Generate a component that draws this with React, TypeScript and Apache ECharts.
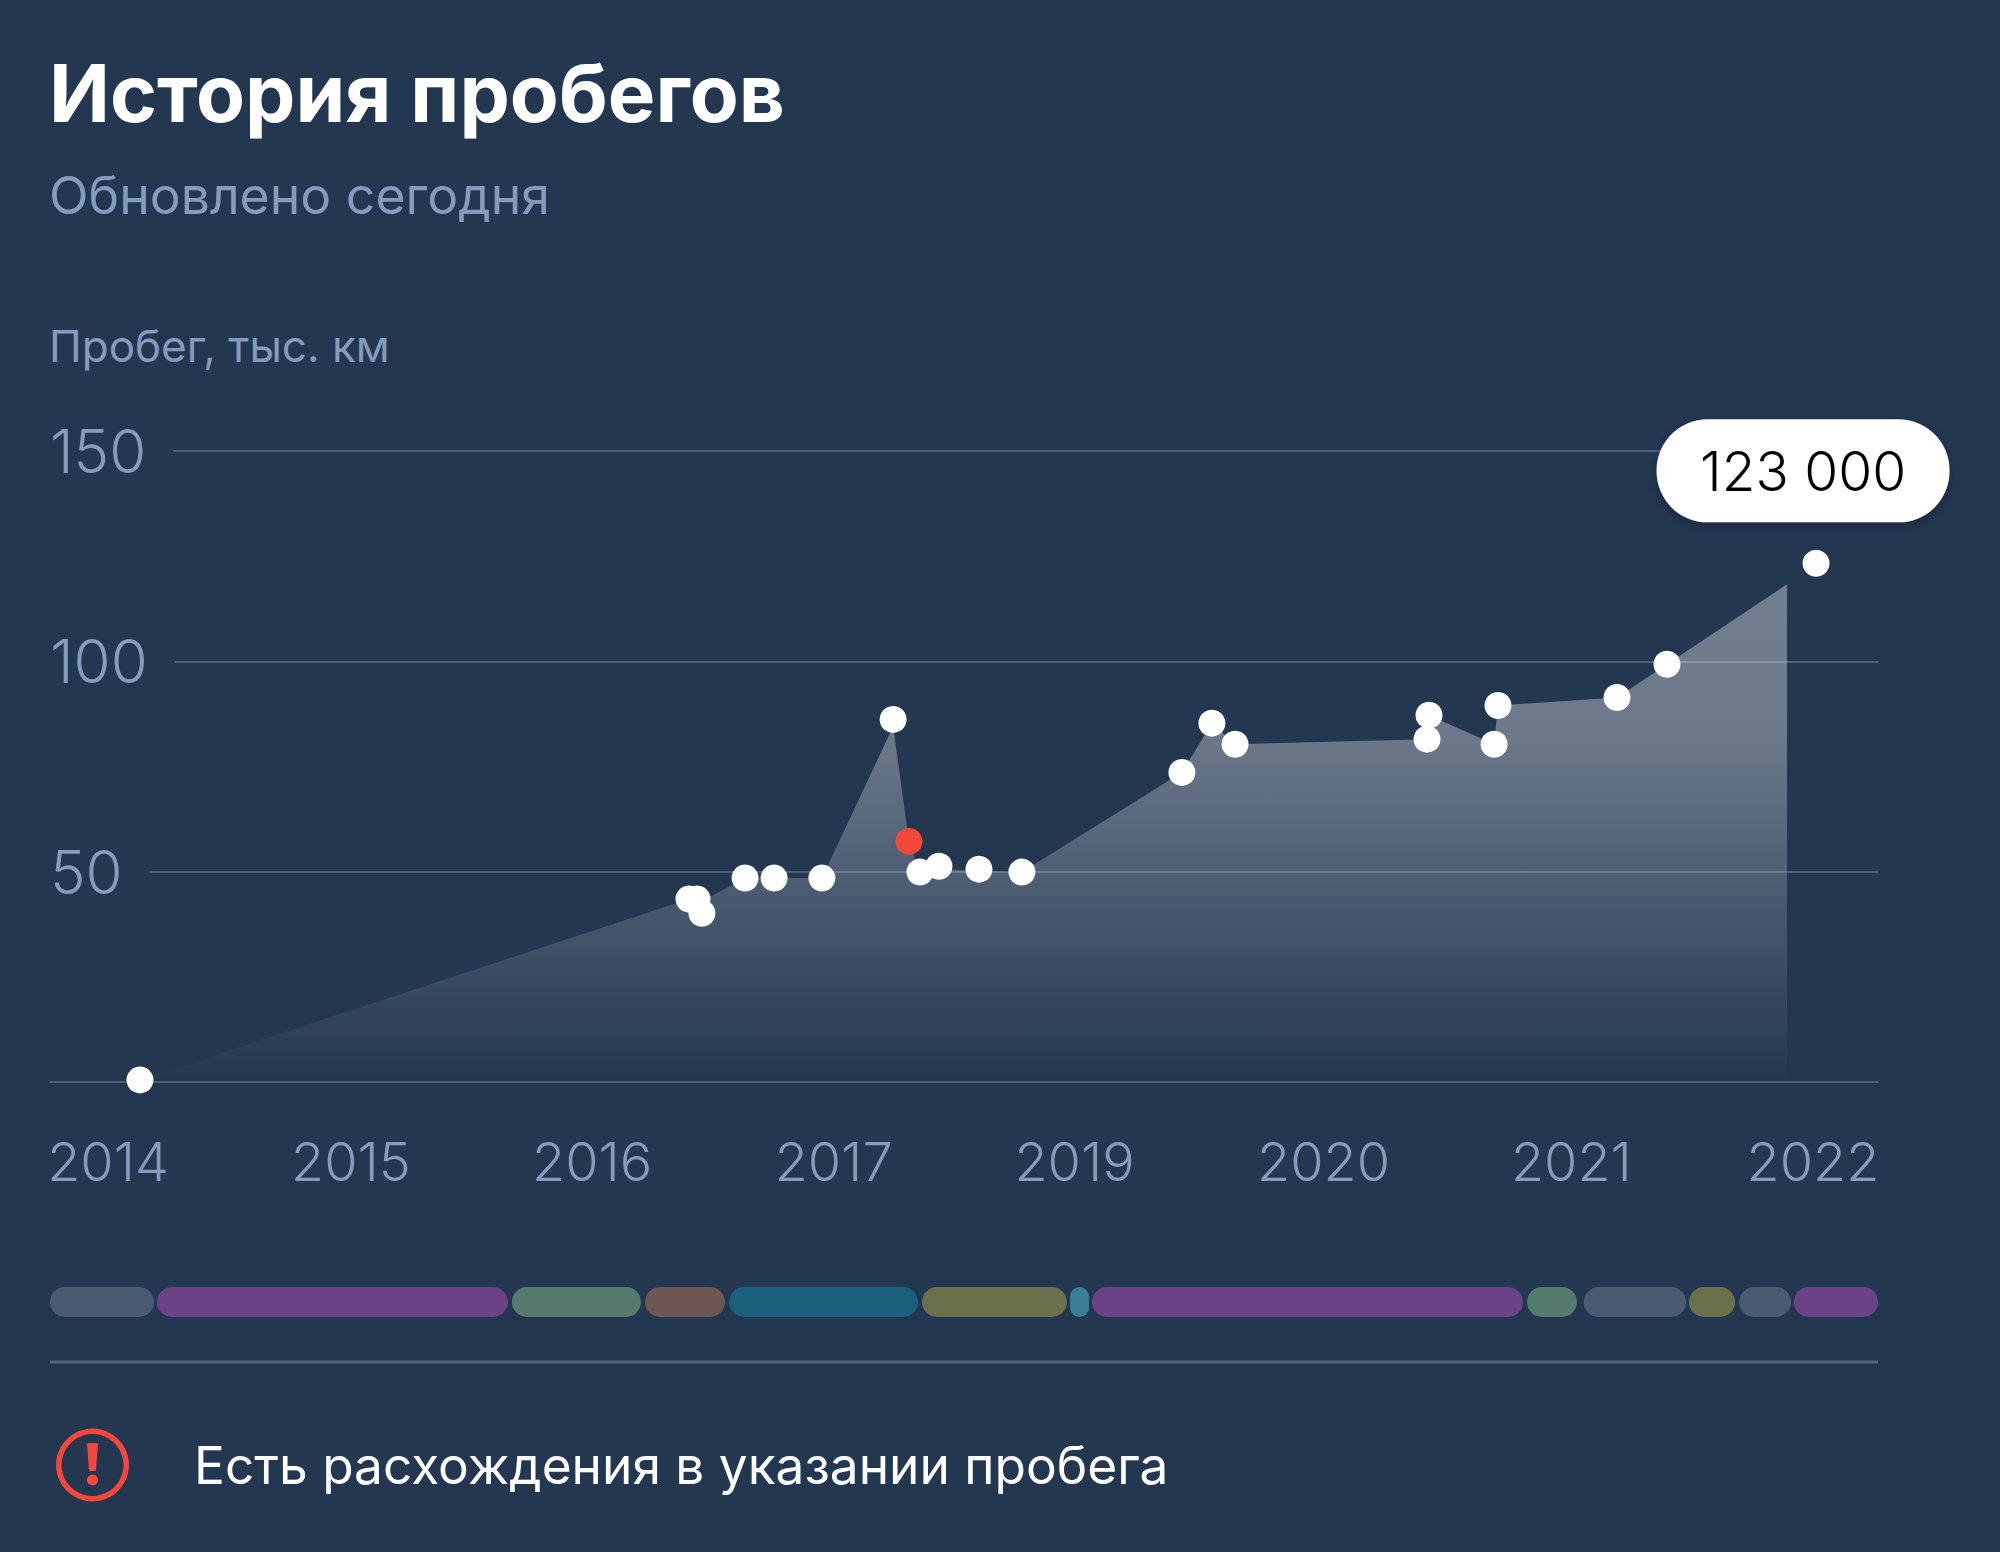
import React, { useEffect, useRef } from "react";
import * as echarts from "echarts";

const BG = "#233751";
const MUTED = "#849cbc";
const FONT = "Inter";
const RED = "#f4473c";

const yearLabels = ["2014", "2015", "2016", "2017", "2019", "2020", "2021", "2022"];
const yearPositions = [0, 0.996, 1.985, 2.975, 3.963, 4.984, 6.0, 6.99];

const pointX = [0.131, 2.382, 2.415, 2.435, 2.612, 2.731, 2.927, 3.219, 3.284, 3.329, 3.407, 3.571, 3.747, 4.403, 4.526, 4.621, 5.408, 5.416, 5.683, 5.699, 6.187, 6.392, 7.003];
const pointY = [0.5, 43.5, 43.5, 40.1, 48.5, 48.5, 48.5, 86.2, 57.2, 49.9, 51.3, 50.6, 49.9, 73.6, 85.3, 80.3, 81.5, 87.2, 80.3, 89.5, 91.4, 99.3, 123.3];
const redIndex = 8;

const areaX = [0.131, 2.382, 2.435, 2.612, 2.927, 3.219, 3.284, 3.329, 3.407, 3.747, 4.403, 4.526, 4.621, 5.408, 5.416, 5.683, 5.699, 6.187, 6.392, 6.884];
const areaY = [0.5, 43.5, 43.0, 48.5, 48.5, 84.5, 57.2, 49.9, 50.6, 49.9, 73.6, 85.3, 80.3, 81.5, 87.2, 80.3, 89.5, 91.4, 99.3, 118.3];

const segmentStart = [0, 5.85, 25.27, 32.55, 37.14, 47.7, 55.8, 57.0, 80.8, 83.9, 89.66, 92.4, 95.4];
const segmentEnd = [5.69, 25.05, 32.33, 36.93, 47.48, 55.63, 56.84, 80.58, 83.53, 89.5, 92.18, 95.24, 100];
const segmentColors = ["#4a5a70", "#6c4287", "#557a6e", "#6d5654", "#1a5f7c", "#6a7049", "#3b7d92", "#6c4287", "#557a6e", "#4a5a70", "#6a7049", "#4a5a70", "#6c4287"];

const titleText = "История пробегов";
const subtitleText = "Обновлено сегодня";
const axisTitleText = "Пробег, тыс. км";
const warningText = "Есть расхождения в указании пробега";
const lastValueText = "123 000";

export default function App() {
  const ref = useRef<HTMLDivElement>(null);
  useEffect(() => {
    document.body.style.margin = "0";
    const chart = echarts.init(ref.current!, null, { renderer: "svg" });
    chart.setOption({
      animation: false,
      backgroundColor: BG,
      grid: [
        { left: 50, right: 122, top: 451, height: 631 },
        { left: 50, right: 122, top: 1287, height: 30 },
      ],
      xAxis: [
        {
          type: "value",
          gridIndex: 0,
          min: -0.2378,
          max: 7.257,
          splitLine: { show: false },
          axisLine: { show: false },
          axisTick: { show: false },
          axisLabel: {
            customValues: yearPositions,
            formatter: (v: number) => yearLabels[yearPositions.indexOf(v)] ?? "",
            color: MUTED,
            fontFamily: FONT,
            fontWeight: 300,
            fontSize: 54,
            margin: 52,
            hideOverlap: false,
          },
        },
        { type: "value", gridIndex: 1, min: 0, max: 100, show: false },
      ],
      yAxis: [
        {
          type: "value",
          gridIndex: 0,
          min: 0,
          max: 150,
          interval: 50,
          axisLine: { show: false },
          axisTick: { show: false },
          splitLine: { lineStyle: { color: "#4e5f78", width: 2 } },
          axisLabel: {
            inside: true,
            showMinLabel: false,
            color: MUTED,
            fontFamily: FONT,
            fontWeight: 300,
            fontSize: 60,
            backgroundColor: BG,
            padding: [0, 27, 10, 0],
            margin: 0,
          },
        },
        { type: "value", gridIndex: 1, min: 0, max: 1, show: false },
      ],
      series: [
        {
          type: "line",
          xAxisIndex: 0,
          yAxisIndex: 0,
          data: areaX.map((x, i) => [x, areaY[i]]),
          showSymbol: false,
          lineStyle: { width: 0, opacity: 0 },
          silent: true,
          z: 2,
          areaStyle: {
            origin: "start",
            opacity: 1,
            color: new echarts.graphic.LinearGradient(0, 0, 0, 1, [
              { offset: 0, color: "rgba(255,255,255,0.36)" },
              { offset: 0.3, color: "rgba(255,255,255,0.33)" },
              { offset: 1, color: "rgba(255,255,255,0)" },
            ]),
          },
        },
        {
          type: "scatter",
          xAxisIndex: 0,
          yAxisIndex: 0,
          symbol: "circle",
          symbolSize: 27,
          z: 3,
          clip: false,
          data: pointX.map((x, i) => {
            const isLast = i === pointX.length - 1;
            return {
              value: [x, pointY[i]],
              itemStyle: { color: i === redIndex ? RED : "#ffffff", opacity: 1 },
              label: isLast
                ? {
                    show: true,
                    position: "top",
                    offset: [-13, -74],
                    formatter: () => lastValueText,
                    color: "#000000",
                    fontFamily: FONT,
                    fontWeight: 300,
                    fontSize: 55,
                    lineHeight: 98,
                    width: 293,
                    height: 98,
                    padding: [0, 0, 5, 0],
                    align: "center",
                    verticalAlign: "middle",
                    backgroundColor: "#ffffff",
                    borderRadius: 51,
                    shadowColor: "rgba(0,0,0,0.25)",
                    shadowBlur: 12,
                    shadowOffsetY: 4,
                  }
                : { show: false },
            };
          }),
        },
        {
          type: "custom",
          xAxisIndex: 1,
          yAxisIndex: 1,
          silent: true,
          data: segmentStart.map((s, i) => [s, segmentEnd[i]]),
          encode: { x: [0, 1] },
          clip: false,
          renderItem: (params: any, api: any) => {
            const a = api.coord([api.value(0), 1]);
            const b = api.coord([api.value(1), 0]);
            return {
              type: "rect",
              shape: { x: a[0], y: a[1], width: b[0] - a[0], height: b[1] - a[1], r: 15 },
              style: { fill: segmentColors[params.dataIndex] },
            };
          },
        },
      ],
      graphic: [
        { type: "text", x: 49, y: 92, style: { text: titleText, fill: "#ffffff", font: `700 80px ${FONT}`, textVerticalAlign: "middle" } },
        { type: "text", x: 49, y: 195, style: { text: subtitleText, fill: MUTED, font: `400 51.7px ${FONT}`, textVerticalAlign: "middle" } },
        { type: "text", x: 49, y: 346, style: { text: axisTitleText, fill: MUTED, font: `400 44px ${FONT}`, textVerticalAlign: "middle" } },
        { type: "line", shape: { x1: 50, y1: 1362, x2: 1878, y2: 1362 }, style: { stroke: "#55677f", lineWidth: 3 } },
        { type: "circle", shape: { cx: 92.5, cy: 1465, r: 33.7 }, style: { fill: "none", stroke: RED, lineWidth: 5.5 } },
        { type: "polygon", shape: { points: [[88, 1444], [97, 1444], [95, 1470], [90, 1470]] }, style: { fill: RED, lineJoin: "round", stroke: RED, lineWidth: 2 } },
        { type: "circle", shape: { cx: 92.5, cy: 1480, r: 5.5 }, style: { fill: RED } },
        { type: "text", x: 194, y: 1465, style: { text: warningText, fill: "#ffffff", font: `400 51.4px ${FONT}`, textVerticalAlign: "middle" } },
      ],
    });
    return () => chart.dispose();
  }, []);
  return <div ref={ref} style={{ width: 2000, height: 1552 }} />;
}
